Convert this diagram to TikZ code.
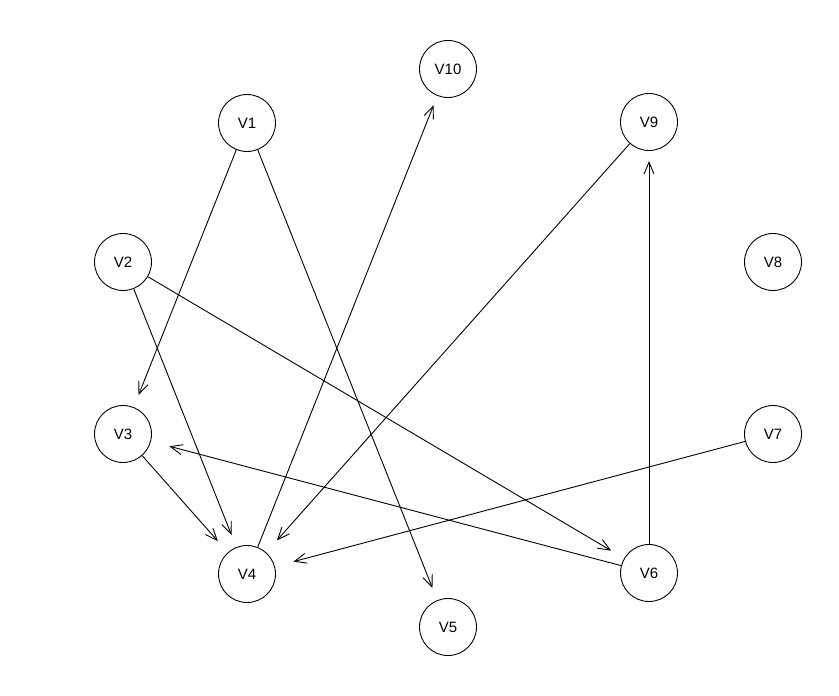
\documentclass[tikz,border=0pt]{standalone}
\usepackage{fontspec}
\setmainfont{Liberation Sans}
\usetikzlibrary{arrows.meta}
\tikzset{
  >={Straight Barb[length=12pt,width=10pt]},
  vertex/.style={circle,draw,line width=0.9pt,minimum size=57pt,inner sep=0pt,
    font=\fontsize{15}{18}\selectfont},
  edge/.style={->,line width=0.9pt,shorten >=#1},
  edge/.default=10pt,
}
\begin{document}
\begin{tikzpicture}[x=1pt,y=-1pt]
  \useasboundingbox (0,0) rectangle (839,696);
  % vertices
  \node[vertex] (v10) at (448,69)  {V10};
  \node[vertex] (v1)  at (247,123) {V1};
  \node[vertex] (v9)  at (649,122) {V9};
  \node[vertex] (v2)  at (123,262) {V2};
  \node[vertex] (v8)  at (773,262) {V8};
  \node[vertex] (v3)  at (123,434) {V3};
  \node[vertex] (v7)  at (773,434) {V7};
  \node[vertex] (v4)  at (247,574) {V4};
  \node[vertex] (v6)  at (649,573) {V6};
  \node[vertex] (v5)  at (448,627) {V5};
  % edges (gap before the tip grows as the edge gets flatter)
  \foreach \a/\b/\s in {v1/v3/13,v1/v5/13,v4/v10/10,v9/v4/16,v2/v4/13,
      v2/v6/15,v3/v4/15,v6/v3/19,v6/v9/10,v7/v4/19}
    \draw[edge=\s pt] (\a) -- (\b);
\end{tikzpicture}
\end{document}
